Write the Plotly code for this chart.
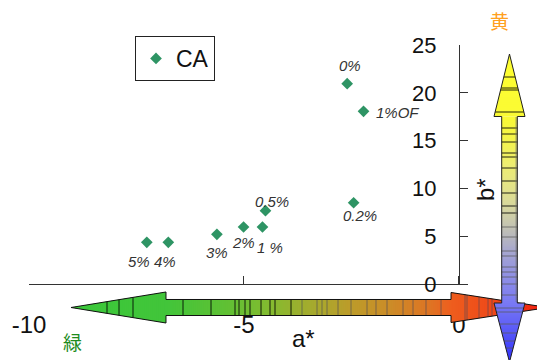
import numpy as np
import plotly.graph_objects as go

# --- data -------------------------------------------------------------
a_star = [-2.60, -2.22, -2.45, -4.50, -4.57, -5.01, -5.63, -6.76, -7.26]
b_star = [20.95, 18.06, 8.50, 7.67, 5.96, 5.96, 5.20, 4.36, 4.36]
point_labels = ["0%", "1%OF", "0.2%", "0.5%", "1 %", "2%", "3%", "4%", "5%"]
series_name = "CA"
x_ticks = [-10, -5, 0]
y_ticks = [0, 5, 10, 15, 20, 25]

# label offsets (px) relative to each marker
label_offsets = {
    "0%": (3, 18, "center"),
    "1%OF": (10, -1, "left"),
    "0.2%": (6, -13, "center"),
    "0.5%": (7, 9, "center"),
    "1 %": (8, -20, "center"),
    "2%": (0, -15, "center"),
    "3%": (0, -18, "center"),
    "4%": (-3, -19, "center"),
    "5%": (-8, -19, "center"),
}

FONT = "Arial, Liberation Sans, Helvetica, sans-serif"
W, H = 537, 360
ML, MR, MT, MB = 29, 69, 45, 76
PW, PH = W - ML - MR, H - MT - MB


def fx(px):
    return (px - ML) / PW


def fy(py):
    return (H - MB - py) / PH


def hexrgb(h):
    h = h.lstrip("#")
    return np.array([int(h[i:i + 2], 16) for i in (0, 2, 4)], float)


def interp_color(v, stops):
    pos = [s[0] for s in stops]
    cols = [hexrgb(s[1]) for s in stops]
    if v <= pos[0]:
        c = cols[0]
    elif v >= pos[-1]:
        c = cols[-1]
    else:
        i = np.searchsorted(pos, v) - 1
        t = (v - pos[i]) / (pos[i + 1] - pos[i])
        c = cols[i] * (1 - t) + cols[i + 1] * t
    return "rgb(%d,%d,%d)" % tuple(np.round(c).astype(int))


def poly_path(pts):
    return "M " + " L ".join("%.5f,%.5f" % (fx(x), fy(y)) for x, y in pts) + " Z"


shapes = []

# ---- horizontal a* arrow (green <-> red) ----
hc = 307.5
h_segments = [  # (x0, x1, half0, half1)
    (71, 166, 0.0, 15.5),
    (166, 451, 8.0, 8.0),
    (451, 548, 15.0, 0.0),
]
h_stops = [(71, "#3ac83a"), (166, "#42c53a"), (230, "#62c034"), (270, "#84bb30"),
           (310, "#a4ab2e"), (350, "#bc9c2a"), (390, "#cc8c28"), (430, "#de7424"),
           (451, "#ee5e1e"), (500, "#f04418"), (548, "#f01c10")]

for x0, x1, h0, h1 in h_segments:
    n = int(np.ceil((x1 - x0) / 2.0))
    xs = np.linspace(x0, x1, n + 1)
    for i in range(n):
        xa, xb = xs[i], xs[i + 1]
        ha = h0 + (h1 - h0) * (xa - x0) / (x1 - x0)
        ext = 1.2 if i < n - 1 else 0.0
        hbe = h0 + (h1 - h0) * (min(xb + ext, x1) - x0) / (x1 - x0)
        col = interp_color((xa + xb) / 2, h_stops)
        shapes.append(dict(type="path", xref="paper", yref="paper", layer="above",
                           path=poly_path([(xa, hc - ha), (xb + ext, hc - hbe), (xb + ext, hc + hbe), (xa, hc + ha)]),
                           fillcolor=col, line=dict(width=0)))


def h_half(x):
    for x0, x1, h0, h1 in h_segments:
        if x0 <= x <= x1:
            return h0 + (h1 - h0) * (x - x0) / (x1 - x0)
    return 0.0


h_stripes = [107, 119, 133, 183, 211, 235, 239, 245, 250, 261, 270, 275, 291, 302,
             317, 322, 327, 338, 351, 367, 376, 387, 403, 413, 426, 441, 465, 467, 479, 488, 492]
for xs_ in h_stripes:
    hh = h_half(xs_)
    col = "rgba(0,0,0,0.85)" if xs_ < 300 else "rgba(70,70,90,0.6)"
    shapes.append(dict(type="line", xref="paper", yref="paper", layer="above",
                       x0=fx(xs_), x1=fx(xs_), y0=fy(hc - hh), y1=fy(hc + hh),
                       line=dict(color=col, width=1)))

h_outline = [(71, hc), (166, hc - 15.5), (166, hc - 8), (451, hc - 8), (451, hc - 15),
             (548, hc), (451, hc + 15), (451, hc + 8), (166, hc + 8), (166, hc + 15.5)]
shapes.append(dict(type="path", xref="paper", yref="paper", layer="above",
                   path=poly_path(h_outline), fillcolor="rgba(0,0,0,0)",
                   line=dict(color="#111111", width=1)))

# ---- vertical b* arrow (yellow <-> blue) ----
vc = 509.5
v_segments = [  # (y0, y1, half0, half1)
    (54, 116.5, 0.0, 15.5),
    (116.5, 303, 7.8, 7.8),
    (303, 362, 15.5, 0.0),
]
v_stops = [(54, "#ffff30"), (116, "#fafa34"), (140, "#f4f44c"), (165, "#eded72"),
           (190, "#e2e28c"), (212, "#d2d2a4"), (232, "#bdbdb8"), (252, "#a6a6d0"),
           (278, "#8e8ee6"), (302, "#7a7af4"), (325, "#6060f6"), (345, "#4646fa"),
           (362, "#3030ff")]

for y0, y1, w0, w1 in v_segments:
    n = int(np.ceil((y1 - y0) / 2.0))
    ys = np.linspace(y0, y1, n + 1)
    for i in range(n):
        ya, yb = ys[i], ys[i + 1]
        wa = w0 + (w1 - w0) * (ya - y0) / (y1 - y0)
        ext = 1.2 if i < n - 1 else 0.0
        wbe = w0 + (w1 - w0) * (min(yb + ext, y1) - y0) / (y1 - y0)
        col = interp_color((ya + yb) / 2, v_stops)
        shapes.append(dict(type="path", xref="paper", yref="paper", layer="above",
                           path=poly_path([(vc - wa, ya), (vc + wa, ya), (vc + wbe, yb + ext), (vc - wbe, yb + ext)]),
                           fillcolor=col, line=dict(width=0)))


def v_half(y):
    for y0, y1, w0, w1 in v_segments:
        if y0 <= y <= y1:
            return w0 + (w1 - w0) * (y - y0) / (y1 - y0)
    return 0.0


v_stripes = [77, 88, 90, 112, 128, 134, 142, 153, 157, 168, 181, 193, 206, 213,
             227, 237, 251, 256, 267, 272, 277, 284, 295, 308, 312, 324, 333, 341, 348]
for ys_ in v_stripes:
    ww = v_half(ys_)
    col = "rgba(0,0,0,0.85)" if ys_ < 215 else "rgba(90,90,90,0.75)"
    shapes.append(dict(type="line", xref="paper", yref="paper", layer="above",
                       x0=fx(vc - ww), x1=fx(vc + ww), y0=fy(ys_), y1=fy(ys_),
                       line=dict(color=col, width=1)))

# soft grey edge along the right side of the shaft
shapes.append(dict(type="line", xref="paper", yref="paper", layer="above",
                   x0=fx(vc + 6.8), x1=fx(vc + 6.8), y0=fy(117), y1=fy(302),
                   line=dict(color="rgba(120,120,120,0.45)", width=2)))

v_outline = [(vc, 54), (vc + 15.5, 116.5), (vc + 7.8, 116.5), (vc + 7.8, 303), (vc + 15.5, 303),
             (vc, 362), (vc - 15.5, 303), (vc - 7.8, 303), (vc - 7.8, 116.5), (vc - 15.5, 116.5)]
shapes.append(dict(type="path", xref="paper", yref="paper", layer="above",
                   path=poly_path(v_outline), fillcolor="rgba(0,0,0,0)",
                   line=dict(color="#222222", width=1)))

# ---- figure ----
fig = go.Figure()
fig.add_trace(go.Scatter(
    x=a_star, y=b_star, mode="markers", name=series_name,
    marker=dict(symbol="diamond", size=9, color="#2e9464", line=dict(width=0)),
    cliponaxis=False,
))

annotations = []
for xv, yv, lab in zip(a_star, b_star, point_labels):
    dx, dy, anc = label_offsets[lab]
    annotations.append(dict(x=xv, y=yv, xref="x", yref="y", text="<i>%s</i>" % lab,
                            showarrow=False, xshift=dx, yshift=dy, xanchor=anc,
                            yanchor="middle",
                            font=dict(family=FONT, size=15, color="#333333")))

annotations += [
    dict(x=fx(303), y=fy(338), xref="paper", yref="paper", text="a*", showarrow=False,
         font=dict(family=FONT, size=24, color="#111111"), xanchor="center", yanchor="middle"),
    dict(x=fx(485), y=fy(190), xref="paper", yref="paper", text="b*", showarrow=False,
         textangle=-90, font=dict(family=FONT, size=24, color="#111111"),
         xanchor="center", yanchor="middle"),
    dict(x=fx(500), y=fy(20), xref="paper", yref="paper", text="黄", showarrow=False,
         font=dict(family="Noto Sans CJK JP", size=19, color="#ffa020"),
         xanchor="center", yanchor="middle"),
    dict(x=fx(72), y=fy(341), xref="paper", yref="paper", text="緑", showarrow=False,
         font=dict(family="Noto Sans CJK JP", size=19, color="#1e8c1e"),
         xanchor="center", yanchor="middle"),
]

fig.update_layout(
    width=W, height=H,
    margin=dict(l=ML, r=MR, t=MT, b=MB, pad=0),
    paper_bgcolor="white", plot_bgcolor="white",
    font=dict(family=FONT, color="#111111"),
    showlegend=True,
    legend=dict(x=fx(135), y=fy(36), xanchor="left", yanchor="top",
                bordercolor="#222222", borderwidth=1, bgcolor="white",
                font=dict(family=FONT, size=23, color="#111111"),
                itemsizing="trace"),
    xaxis=dict(range=[-10, 0.21], tickvals=x_ticks, ticktext=[str(v) for v in x_ticks],
               showgrid=False, zeroline=False, showline=True, linecolor="#333333", linewidth=1,
               ticks="inside", ticklen=8, tickcolor="#333333", tickwidth=1,
               tickfont=dict(family=FONT, size=24, color="#111111"),
               ticklabelstandoff=19, automargin=False, fixedrange=True),
    yaxis=dict(range=[0, 25], tickvals=y_ticks, ticktext=[str(v) for v in y_ticks],
               anchor="free", position=fx(459), side="left",
               showgrid=False, zeroline=False, showline=True, linecolor="#333333", linewidth=1,
               ticks="inside", ticklen=8, tickcolor="#333333", tickwidth=1,
               tickfont=dict(family=FONT, size=22, color="#111111"),
               ticklabelstandoff=18, automargin=False, fixedrange=True),
    shapes=shapes,
    annotations=annotations,
)

fig.write_html("out.html")
